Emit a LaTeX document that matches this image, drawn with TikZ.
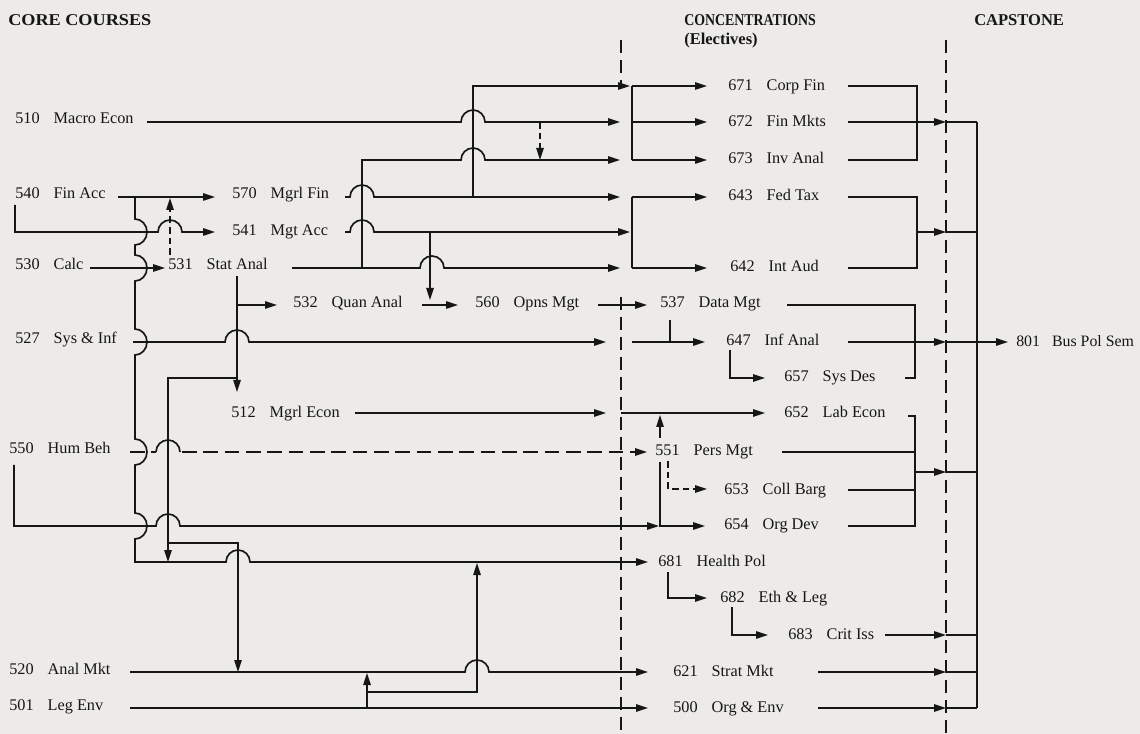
\documentclass[tikz,border=0pt]{standalone}
\usepackage{fontspec}
\setmainfont{Liberation Serif}
\usetikzlibrary{arrows.meta}
\definecolor{ink}{RGB}{22,22,22}
\definecolor{paper}{RGB}{236,235,231}
\newcommand\cc[2]{#1\hspace{10.5pt}#2}
\begin{document}
\begin{tikzpicture}[x=0.75pt,y=-0.75pt,
  ln/.style={line width=1.25pt, draw=ink},
  ar/.style={ln, -{Triangle[length=9pt,width=5.5pt]}},
  dsh/.style={dash pattern=on 11pt off 5pt},
  sdsh/.style={dash pattern=on 5pt off 3pt},
  sep/.style={line width=0.9pt, draw=ink, dash pattern=on 10pt off 5pt},
  lbl/.style={anchor=base west, inner sep=0pt, font=\fontsize{12.2}{14}\selectfont, text=ink},
  hdr/.style={anchor=base west, inner sep=0pt, font=\fontsize{12.4}{15}\selectfont\bfseries, text=ink},
  hh/.style 2 args={insert path={-- ({#1-12},#2) arc[start angle=180,end angle=0,radius=9pt]}},
  hv/.style 2 args={insert path={-- (#1,{#2-13}) arc[start angle=90,end angle=-90,x radius=9pt,y radius=9.75pt]}},
]
\fill[paper] (0,0) rectangle (1140,734);
\useasboundingbox (0,0) rectangle (1140,734);

% headers
\node[hdr] (hcore) at (8,26) {\scalebox{1.1}[1]{CORE COURSES}};
\node[hdr] (hconc) at (684,26) {\scalebox{0.84}[1]{CONCENTRATIONS}};
\node[hdr] (helec) at (684,45) {(Electives)};
\node[hdr] (hcap) at (974,26) {CAPSTONE};

% separators
\draw[sep] (621,40) -- (621,86);
\draw[sep] (621,297) -- (621,734);
\draw[sep] (946,40) -- (946,734);

% core labels
\node[lbl] (n510) at (15,124) {\cc{510}{Macro Econ}};
\node[lbl] (n540) at (15,199) {\cc{540}{Fin Acc}};
\node[lbl] (n570) at (232,199) {\cc{570}{Mgrl Fin}};
\node[lbl] (n541) at (232,236) {\cc{541}{Mgt Acc}};
\node[lbl] (n530) at (15,270) {\cc{530}{Calc}};
\node[lbl] (n531) at (168,270) {\cc{531}{Stat Anal}};
\node[lbl] (n532) at (293,308) {\cc{532}{Quan Anal}};
\node[lbl] (n560) at (475,308) {\cc{560}{Opns Mgt}};
\node[lbl] (n527) at (15,344) {\cc{527}{Sys \& Inf}};
\node[lbl] (n512) at (231,418) {\cc{512}{Mgrl Econ}};
\node[lbl] (n550) at (9,454) {\cc{550}{Hum Beh}};
\node[lbl] (n520) at (9,674) {\cc{520}{Anal Mkt}};
\node[lbl] (n501) at (9,710) {\cc{501}{Leg Env}};

% concentration labels
\node[lbl] (n671) at (728,91) {\cc{671}{Corp Fin}};
\node[lbl] (n672) at (728,127) {\cc{672}{Fin Mkts}};
\node[lbl] (n673) at (728,164) {\cc{673}{Inv Anal}};
\node[lbl] (n643) at (728,201) {\cc{643}{Fed Tax}};
\node[lbl] (n642) at (730,272) {\cc{642}{Int Aud}};
\node[lbl] (n537) at (660,308) {\cc{537}{Data Mgt}};
\node[lbl] (n647) at (726,346) {\cc{647}{Inf Anal}};
\node[lbl] (n657) at (784,382) {\cc{657}{Sys Des}};
\node[lbl] (n652) at (784,418) {\cc{652}{Lab Econ}};
\node[lbl] (n551) at (655,456) {\cc{551}{Pers Mgt}};
\node[lbl] (n653) at (724,494) {\cc{653}{Coll Barg}};
\node[lbl] (n654) at (724,529) {\cc{654}{Org Dev}};
\node[lbl] (n681) at (658,566) {\cc{681}{Health Pol}};
\node[lbl] (n682) at (720,602) {\cc{682}{Eth \& Leg}};
\node[lbl] (n683) at (788,639) {\cc{683}{Crit Iss}};
\node[lbl] (n621) at (673,676) {\cc{621}{Strat Mkt}};
\node[lbl] (n500) at (673,712) {\cc{500}{Org \& Env}};
\node[lbl, font=\fontsize{11.9}{14}\selectfont] (n801) at (1016,347) {801\hspace{9pt}Bus Pol Sem};

% ---- core connectors ----
% Fin Acc -> Mgrl Fin
\draw[ar] (118,197) -- (215,197);
% Fin Acc bus -> Health Pol
\draw[ar] (135,197) [hv={135}{232}] [hv={135}{268}] [hv={135}{342}] [hv={135}{452}] [hv={135}{526}]
  -- (135,562) [hh={238}{562}] -- (648,562);
% Fin Acc -> Mgt Acc
\draw[ar] (15,205) -- (15,232) [hh={170}{232}] -- (215,232);
% Stat Anal dashed -> Mgrl Fin
\draw[ar,sdsh] (170,255) -- (170,198);
% Calc -> Stat Anal
\draw[ar] (90,268) -- (165,268);
% Stat Anal -> Quan Anal, Mgrl Econ
\draw[ar] (237,276) -- (237,392);
\draw[ar] (237,305) -- (277,305);
% Stat Anal -> Health Pol, Anal Mkt
\draw[ar] (237,378) -- (168,378) -- (168,562);
\draw[ar] (168,543) -- (238,543) -- (238,672);
% Sys & Inf
\draw[ar] (133,342) [hh={237}{342}] -- (606,342);
\draw[ar] (632,342) -- (705,342);
\draw[ln] (670,320) -- (670,342);
% Mgrl Econ
\draw[ar] (355,413) -- (606,413);
\draw[ar] (621,413) -- (765,413);
\draw[ln] (660,526) -- (660,462);
\draw[ar] (660,438) -- (660,415);
% Hum Beh dashed -> Pers Mgt
\draw[ln,dsh] (130,452) -- (156,452);
\draw[ln] (156,452) arc[start angle=180,end angle=0,radius=9pt];
\draw[ar,dsh] (182,452) -- (647,452);
% Hum Beh -> Org Dev
\draw[ar] (14,465) -- (14,526) [hh={168}{526}] -- (659,526);
\draw[ar] (659,526) -- (705,526);
% Pers Mgt dashed -> Coll Barg
\draw[ar,sdsh] (668,461) -- (668,489) -- (707,489);
% Health Pol -> Eth & Leg -> Crit Iss
\draw[ar] (668,572) -- (668,598) -- (707,598);
\draw[ar] (732,607) -- (732,635) -- (768,635);
% Anal Mkt, Leg Env
\draw[ar] (130,672) [hh={477}{672}] -- (648,672);
\draw[ar] (130,708) -- (648,708);
\draw[ar] (367,708) -- (367,673);
\draw[ar] (367,692) -- (477,692) -- (477,563);

% upper area
\draw[ar] (147,122) [hh={473}{122}] -- (620,122);
\draw[ar,sdsh] (540,122) -- (540,160);
\draw[ar] (345,197) [hh={362}{197}] -- (620,197);
\draw[ar] (473,197) -- (473,86) -- (630,86);
\draw[ar] (345,232) [hh={362}{232}] -- (630,232);
\draw[ar] (430,232) -- (430,300);
\draw[ar] (292,268) [hh={432}{268}] -- (620,268);
\draw[ar] (362,268) -- (362,160) [hh={473}{160}] -- (620,160);
\draw[ar] (422,305) -- (458,305);
\draw[ar] (598,305) -- (647,305);

% brackets into concentrations
\draw[ln] (632,86) -- (632,160);
\draw[ar] (632,86) -- (707,86);
\draw[ar] (632,122) -- (707,122);
\draw[ar] (632,160) -- (707,160);
\draw[ln] (632,197) -- (632,268);
\draw[ar] (632,197) -- (707,197);
\draw[ar] (632,268) -- (707,268);

% concentrations -> capstone
\draw[ln] (848,86) -- (917,86) -- (917,160) -- (848,160);
\draw[ar] (848,122) -- (946,122);
\draw[ln] (946,122) -- (977,122);
\draw[ln] (848,197) -- (917,197) -- (917,268) -- (848,268);
\draw[ar] (917,232) -- (946,232);
\draw[ln] (946,232) -- (977,232);
\draw[ln] (787,305) -- (915,305) -- (915,378) -- (905,378);
\draw[ar] (848,342) -- (946,342);
\draw[ln] (946,342) -- (977,342);
\draw[ar] (730,350) -- (730,378) -- (765,378);
\draw[ln] (908,416) -- (915,416) -- (915,526) -- (848,526);
\draw[ln] (782,452) -- (915,452);
\draw[ln] (848,490) -- (915,490);
\draw[ar] (915,472) -- (946,472);
\draw[ln] (946,472) -- (977,472);
\draw[ar] (885,635) -- (946,635);
\draw[ln] (946,635) -- (977,635);
\draw[ar] (818,672) -- (946,672);
\draw[ln] (946,672) -- (977,672);
\draw[ar] (818,708) -- (946,708);
\draw[ln] (946,708) -- (977,708);
\draw[ln] (977,122) -- (977,708);
\draw[ar] (977,342) -- (1008,342);
\end{tikzpicture}
\end{document}
